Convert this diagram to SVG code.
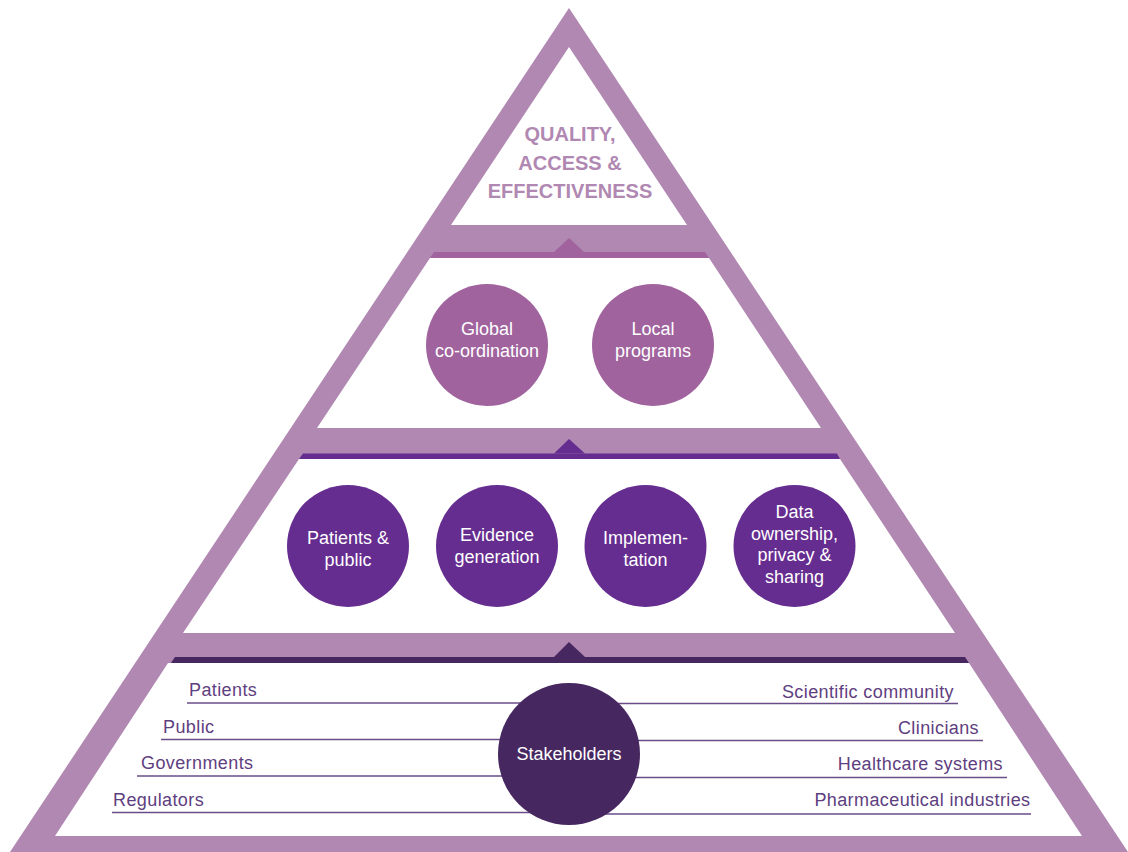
<svg xmlns="http://www.w3.org/2000/svg" width="1128" height="852" viewBox="0 0 1128 852">
<style>
.band{fill:#b088b2}
.hole{fill:#ffffff}
.c2{fill:#a0639e}
.c3{fill:#652d8f}
.c4{fill:#46275f}
.ct{font-family:"Liberation Sans",Arial,sans-serif;font-size:18px;fill:#ffffff;text-anchor:middle}
.title{font-family:"Liberation Sans",Arial,sans-serif;font-size:20px;font-weight:bold;fill:#b088b2;text-anchor:middle}
.lbl{font-family:"Liberation Sans",Arial,sans-serif;font-size:18px;fill:#5e4080;letter-spacing:0.4px}
.ln{stroke:#6a4c88;stroke-width:1.4;fill:none}
</style>
<rect width="1128" height="852" fill="#ffffff"/>
<g id="pyramid">
<polygon class="band" points="569,8 1128,852 10,852"/>
<polygon class="hole" points="569,47 687,225 451,225"/>
<polygon class="hole" points="430,258 709,258 821,428 317,428"/>
<polygon class="hole" points="299,459 840,459 955,633 183,633"/>
<polygon class="hole" points="168,663 969,663 1082,836 55,836"/>
<polygon class="c2" points="434,252 705,252 709,258 430,258"/>
<polygon class="c2" points="554,252 569,238 584,252"/>
<polygon class="c3" points="303,453.5 837,453.5 840,459 299,459"/>
<polygon class="c3" points="554,453.5 569,439 585,453.5"/>
<polygon class="c4" points="175,657 965,657 969,663 171,663"/>
<polygon class="c4" points="554,657 569,642 585,657"/>
</g>
<g id="title">
<text class="title" x="570" y="141">QUALITY,</text>
<text class="title" x="570" y="170">ACCESS &amp;</text>
<text class="title" x="570" y="198">EFFECTIVENESS</text>
</g>
<g id="connectors">
<line class="ln" x1="187" y1="703" x2="569" y2="703"/>
<line class="ln" x1="161" y1="739.5" x2="569" y2="739.5"/>
<line class="ln" x1="137" y1="776" x2="569" y2="776"/>
<line class="ln" x1="112" y1="812.5" x2="569" y2="812.5"/>
<line class="ln" x1="569" y1="703.5" x2="958" y2="703.5"/>
<line class="ln" x1="569" y1="740.5" x2="983" y2="740.5"/>
<line class="ln" x1="569" y1="777.5" x2="1007" y2="777.5"/>
<line class="ln" x1="569" y1="814" x2="1031" y2="814"/>
</g>
<g id="labels-left">
<text class="lbl" x="189" y="696">Patients</text>
<text class="lbl" x="163" y="732.5">Public</text>
<text class="lbl" x="141" y="769">Governments</text>
<text class="lbl" x="113" y="805.5">Regulators</text>
</g>
<g id="labels-right">
<text class="lbl" x="954" y="697.5" text-anchor="end">Scientific community</text>
<text class="lbl" x="979" y="733.5" text-anchor="end">Clinicians</text>
<text class="lbl" x="1003" y="769.5" text-anchor="end">Healthcare systems</text>
<text class="lbl" x="1030.5" y="806" text-anchor="end">Pharmaceutical industries</text>
</g>
<g id="global-coordination">
<circle class="c2" cx="487" cy="345" r="61"/>
<text class="ct" x="487" y="335">Global</text>
<text class="ct" x="487" y="357">co-ordination</text>
</g>
<g id="local-programs">
<circle class="c2" cx="653" cy="345" r="61"/>
<text class="ct" x="653" y="335">Local</text>
<text class="ct" x="653" y="357">programs</text>
</g>
<g id="patients-public">
<circle class="c3" cx="348" cy="546" r="61"/>
<text class="ct" x="348" y="544">Patients &amp;</text>
<text class="ct" x="348" y="565.5">public</text>
</g>
<g id="evidence-generation">
<circle class="c3" cx="497" cy="546" r="61"/>
<text class="ct" x="497" y="541">Evidence</text>
<text class="ct" x="497" y="562.5">generation</text>
</g>
<g id="implementation">
<circle class="c3" cx="645.5" cy="546" r="61"/>
<text class="ct" x="645.5" y="544">Implemen-</text>
<text class="ct" x="645.5" y="565.5">tation</text>
</g>
<g id="data-ownership">
<circle class="c3" cx="794.5" cy="546" r="61"/>
<text class="ct" x="794.5" y="518">Data</text>
<text class="ct" x="794.5" y="539.5">ownership,</text>
<text class="ct" x="794.5" y="561">privacy &amp;</text>
<text class="ct" x="794.5" y="582.5">sharing</text>
</g>
<g id="stakeholders">
<circle class="c4" cx="569" cy="754" r="71"/>
<text class="ct" x="569" y="760">Stakeholders</text>
</g>
</svg>
